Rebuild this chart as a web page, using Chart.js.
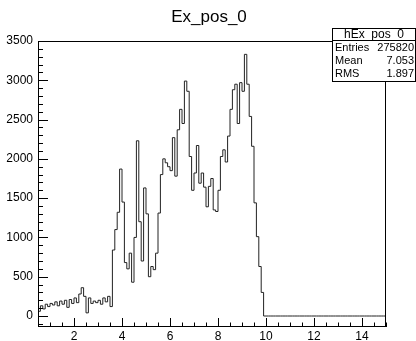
<!DOCTYPE html>
<html><head><meta charset="utf-8">
<script src="https://cdn.jsdelivr.net/npm/chart.js@4/dist/chart.umd.min.js"></script>
<style>html,body{margin:0;padding:0;background:#fff}#wrap{width:416px;height:341px;position:relative}</style>
</head><body><div id="wrap"><canvas id="c"></canvas></div>
<script>
// Histogram Ex_pos_0: fixed-width bins starting at binLow
const histTitle = 'Ex_pos_0';
const histName = 'hEx_pos_0';
const binLow = 0.5;
const binWidth = 0.1;
const counts = [
  110, 60, 130, 90, 150, 120, 160, 140, 180, 130,
  190, 150, 200, 110, 210, 160, 230, 170, 280, 360,
  250, 40, 230, 160, 190, 170, 200, 150, 230, 180,
  250, 120,
  840, 1100, 1320, 1870, 1450, 680, 600, 800, 430, 1000,
  2230, 1200, 700, 1630, 1300, 500, 630, 590, 800, 1310,
  1800, 2000, 1950, 1900, 1850, 2270, 1780, 2370, 2630, 2450,
  2990, 2860, 2030, 1600, 1820, 2170, 1690, 1820, 1640, 1390,
  1650, 1750, 1350, 1330, 1600, 2030, 2115, 1960, 2290, 2630,
  2880, 2950, 2450, 2970, 2860, 3330, 2950, 2540, 2160, 1440,
  1010, 630, 300,
  0, 0, 0, 0, 0, 0, 0, 0, 0, 0,
  0, 0, 0, 0, 0, 0, 0, 0, 0, 0,
  0, 0, 0, 0, 0, 0, 0, 0, 0, 0,
  0, 0, 0, 0, 0, 0, 0, 0, 0, 0,
  0, 0, 0, 0, 0, 0, 0, 0, 0, 0
];
const xTicks = [2, 4, 6, 8, 10, 12, 14];
const yTicks = [0, 500, 1000, 1500, 2000, 2500, 3000, 3500];
const statLabels = ['Entries', 'Mean', 'RMS'];
const statValues = ['275820', '7.053', '1.897'];

const xMin = 0.5, xMax = 15, yMin = -140, yMax = 3500;

// step outline: one point per bin low edge, plus the upper edge of the last bin
const points = counts.map((v, i) => ({ x: binLow + i * binWidth, y: v }));
points.push({ x: binLow + counts.length * binWidth, y: counts[counts.length - 1] });

const FONT = '"Liberation Sans", Arial, sans-serif';

const frameAndTicks = {
  id: 'frameAndTicks',
  afterDraw(chart) {
    const { ctx, chartArea: a, scales: { x, y } } = chart;
    ctx.save();
    ctx.strokeStyle = '#000';
    ctx.lineWidth = 1;
    ctx.strokeRect(Math.round(a.left) + 0.5, Math.round(a.top) + 0.5,
      Math.round(a.right - a.left) - 1, Math.round(a.bottom - a.top) - 1);
    ctx.beginPath();
    // y axis ticks, pointing into the frame
    for (let v = -100; v <= yMax; v += 100) {
      if (v < yMin) continue;
      const py = Math.round(y.getPixelForValue(v)) + 0.5;
      const len = (v % 500 === 0) ? 10 : 5;
      ctx.moveTo(a.left, py); ctx.lineTo(a.left + len, py);
    }
    // x axis ticks, pointing up from the bottom
    for (let v = 0.5; v <= xMax; v += 0.5) {
      const px = Math.round(x.getPixelForValue(v)) + 0.5;
      const len = (v % 2 === 0) ? 9 : 4.5;
      ctx.moveTo(px, a.bottom); ctx.lineTo(px, a.bottom - len);
    }
    ctx.stroke();

    // title
    ctx.fillStyle = '#000';
    ctx.font = '17px ' + FONT;
    ctx.textAlign = 'center';
    ctx.textBaseline = 'alphabetic';
    ctx.fillText(histTitle, 209, 22);

    // statistics box
    const bx = 332.5, by = 28.5, bw = 83, bh = 53;
    ctx.fillStyle = '#fff';
    ctx.fillRect(bx, by, bw, bh);
    ctx.strokeRect(bx, by, bw, bh);
    ctx.beginPath();
    ctx.moveTo(bx, 40.5); ctx.lineTo(bx + bw, 40.5);
    ctx.stroke();
    ctx.fillStyle = '#000';
    ctx.font = '12px ' + FONT;
    ctx.textBaseline = 'middle';
    ctx.textAlign = 'center';
    ctx.fillText(histName, bx + bw / 2, 34.5);
    ctx.font = '11px ' + FONT;
    statLabels.forEach((lab, i) => {
      const ry = 48 + i * 13;
      ctx.textAlign = 'left';
      ctx.fillText(lab, 335, ry);
      ctx.textAlign = 'right';
      ctx.fillText(statValues[i], 414, ry);
    });
    ctx.restore();
  }
};

new Chart(document.getElementById('c'), {
  type: 'line',
  data: {
    datasets: [{
      data: points,
      stepped: 'after',
      borderColor: '#222',
      borderWidth: 1,
      pointRadius: 0,
      fill: false
    }]
  },
  options: {
    responsive: true,
    maintainAspectRatio: false,
    animation: false,
    events: [],
    layout: { padding: { top: 41, right: 30, left: 0, bottom: 0 } },
    plugins: { legend: { display: false }, tooltip: { enabled: false }, title: { display: false } },
    scales: {
      x: {
        type: 'linear', min: xMin, max: xMax,
        afterBuildTicks: s => { s.ticks = xTicks.map(v => ({ value: v })); },
        afterFit: s => { s.height = 14; },
        grid: { display: false, drawTicks: false },
        border: { display: false },
        ticks: { color: '#000', font: { family: FONT, size: 12 }, padding: 2, maxRotation: 0, autoSkip: false,
                 callback: v => String(v) }
      },
      y: {
        type: 'linear', min: yMin, max: yMax,
        afterBuildTicks: s => { s.ticks = yTicks.map(v => ({ value: v })); },
        afterFit: s => { s.width = 38; },
        grid: { display: false, drawTicks: false },
        border: { display: false },
        ticks: { color: '#000', font: { family: FONT, size: 12 }, padding: 5, autoSkip: false,
                 callback: v => String(v) }
      }
    }
  },
  plugins: [frameAndTicks]
});
</script>
</body></html>
